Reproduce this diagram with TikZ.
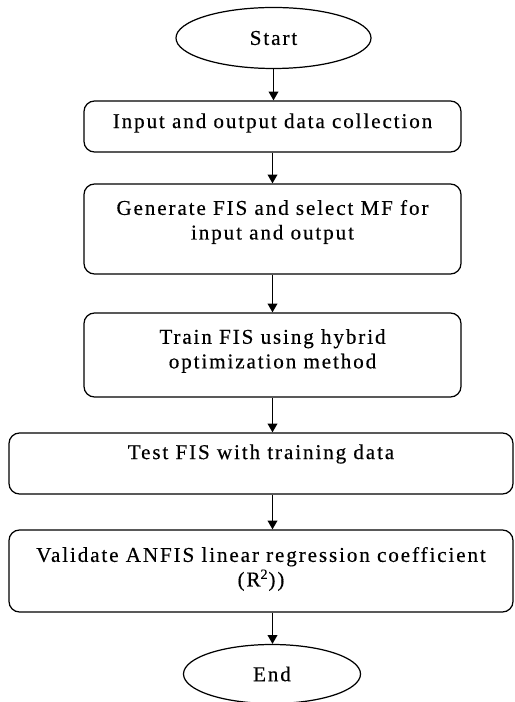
\documentclass[tikz,border=0pt]{standalone}
\usepackage{fontspec}
\setmainfont{Liberation Serif}[LetterSpace=9, FakeBold=0.4]
\usepackage{tikz}
\usetikzlibrary{shapes.geometric, arrows.meta, positioning}
\tikzset{
  terminal/.style={ellipse, draw=black, line width=0.7pt,
    minimum width=3.9cm, minimum height=1.22cm,
    font=\fontsize{12}{14}\selectfont},
  procbox/.style={rectangle, draw=black, line width=0.7pt,
    rounded corners=6pt, align=center, inner sep=0pt,
    minimum width=7.54cm, font=\fontsize{12}{14}\selectfont},
  widebox/.style={procbox, minimum width=10.08cm},
  arrow/.style={-{Triangle[width=5.5pt, length=5pt]}, line width=0.8pt}
}

\begin{document}
\begin{tikzpicture}
  \useasboundingbox (0,0) rectangle (10.28,-14.04);

  % Terminals and process steps
  \node[terminal] (start) at (5.47,-0.76) {Start};
  \node[procbox, minimum height=1.02cm, text depth=0.23cm] (collect) at (5.45,-2.53)
    {Input and output data collection};
  \node[procbox, minimum height=1.80cm, text depth=0.37cm] (genfis) at (5.45,-4.58)
    {Generate FIS and select MF for\\ input and output};
  \node[procbox, minimum height=1.68cm, text depth=0.25cm] (train) at (5.45,-7.10)
    {Train FIS using hybrid\\ optimization method};
  \node[widebox, minimum height=1.22cm, text depth=0.47cm] (test) at (5.22,-9.27)
    {Test FIS with training data};
  \node[widebox, minimum height=1.64cm, text depth=0.17cm] (validate) at (5.22,-11.42)
    {Validate ANFIS linear regression coefficient\\ (R\textsuperscript{2}))};
  \node[terminal, minimum width=3.54cm, minimum height=1.18cm] (end) at (5.44,-13.48) {End};

  % Flow
  \draw[arrow] (start.south) -- (start.south |- collect.north);
  \draw[arrow] (collect.south) -- (genfis.north);
  \draw[arrow] (genfis.south) -- (train.north);
  \draw[arrow] (train.south) -- (train.south |- test.north);
  \draw[arrow] (train.south |- test.south) -- (train.south |- validate.north);
  \draw[arrow] (train.south |- validate.south) -- (train.south |- end.north);
\end{tikzpicture}
\end{document}
